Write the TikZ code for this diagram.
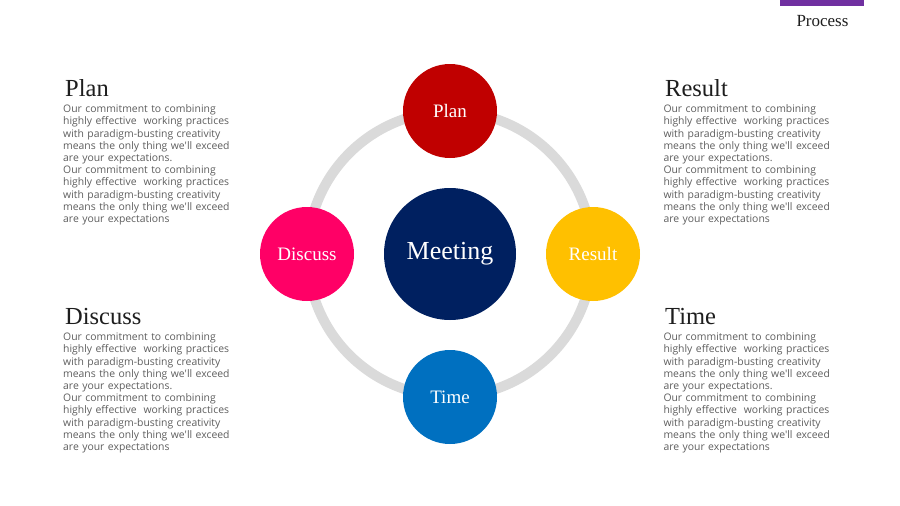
\documentclass[tikz,border=0pt]{standalone}
\usepackage{fontspec}
\setmainfont{Liberation Serif}
\newfontfamily\bodyfont{Open Sans}
\definecolor{planred}{HTML}{C00000}
\definecolor{discpink}{HTML}{FF0066}
\definecolor{resyellow}{HTML}{FFC000}
\definecolor{timeblue}{HTML}{0070C0}
\definecolor{meetnavy}{HTML}{002060}
\definecolor{ringgray}{HTML}{DADADA}
\definecolor{bodygray}{HTML}{5E5E5E}
\definecolor{headdark}{HTML}{1E1E1E}
\definecolor{procpurple}{HTML}{7030A0}
\tikzset{
  satellite/.style={circle, minimum size=94pt, inner sep=0pt, text=white,
    font={\fontsize{19}{22}\selectfont}},
  hub/.style={circle, minimum size=132pt, inner sep=0pt, text=white,
    font={\fontsize{26}{30}\selectfont}},
  heading/.style={anchor=base west, inner sep=0pt, text=headdark,
    font={\fontsize{24.5}{28}\selectfont}},
  bodytext/.style={anchor=base west, inner sep=0pt, text=bodygray,
    text width=200pt, align=left,
    font={\bodyfont\fontsize{10.4}{12.2}\selectfont}}
}
\newcommand{\blurbtext}{Our commitment to combining\\highly effective\ \ working practices\\with paradigm-busting creativity\\means the only thing we'll exceed\\are your expectations.\\Our commitment to combining\\highly effective\ \ working practices\\with paradigm-busting creativity\\means the only thing we'll exceed\\are your expectations}
\begin{document}
\begin{tikzpicture}[x=1pt, y=-1pt]
  \useasboundingbox (0,0) rectangle (900,506);
  \fill[white] (0,0) rectangle (900,506);

  % tab in the top right corner
  \fill[procpurple] (780,0) rectangle (864,6);
  \node[anchor=base, inner sep=0pt, text=headdark, font={\fontsize{17}{20}\selectfont}] (proc) at (822.5,26) {Process};

  % cycle ring
  \coordinate (centre) at (450,254);
  \draw[ringgray, line width=10pt] (centre) circle[radius=142.5];

  % hub and satellites
  \node[hub, fill=meetnavy] (meeting) at (centre) {Meeting};
  \node[satellite, fill=planred] (plan) at (450,111) {Plan};
  \node[satellite, fill=discpink] (discuss) at (307,254) {Discuss};
  \node[satellite, fill=resyellow] (result) at (593,254) {Result};
  \node[satellite, fill=timeblue] (time) at (450,397) {Time};

  % side descriptions
  \node[heading] (planhead) at (65,96) {Plan};
  \node[bodytext] (planbody) at (63,112.7) {\blurbtext};
  \node[heading] (discusshead) at (65,324) {Discuss};
  \node[bodytext] (discussbody) at (63,340.7) {\blurbtext};
  \node[heading] (resulthead) at (665,96) {Result};
  \node[bodytext] (resultbody) at (663.3,112.7) {\blurbtext};
  \node[heading] (timehead) at (665,324) {Time};
  \node[bodytext] (timebody) at (663.3,340.7) {\blurbtext};
\end{tikzpicture}
\end{document}
